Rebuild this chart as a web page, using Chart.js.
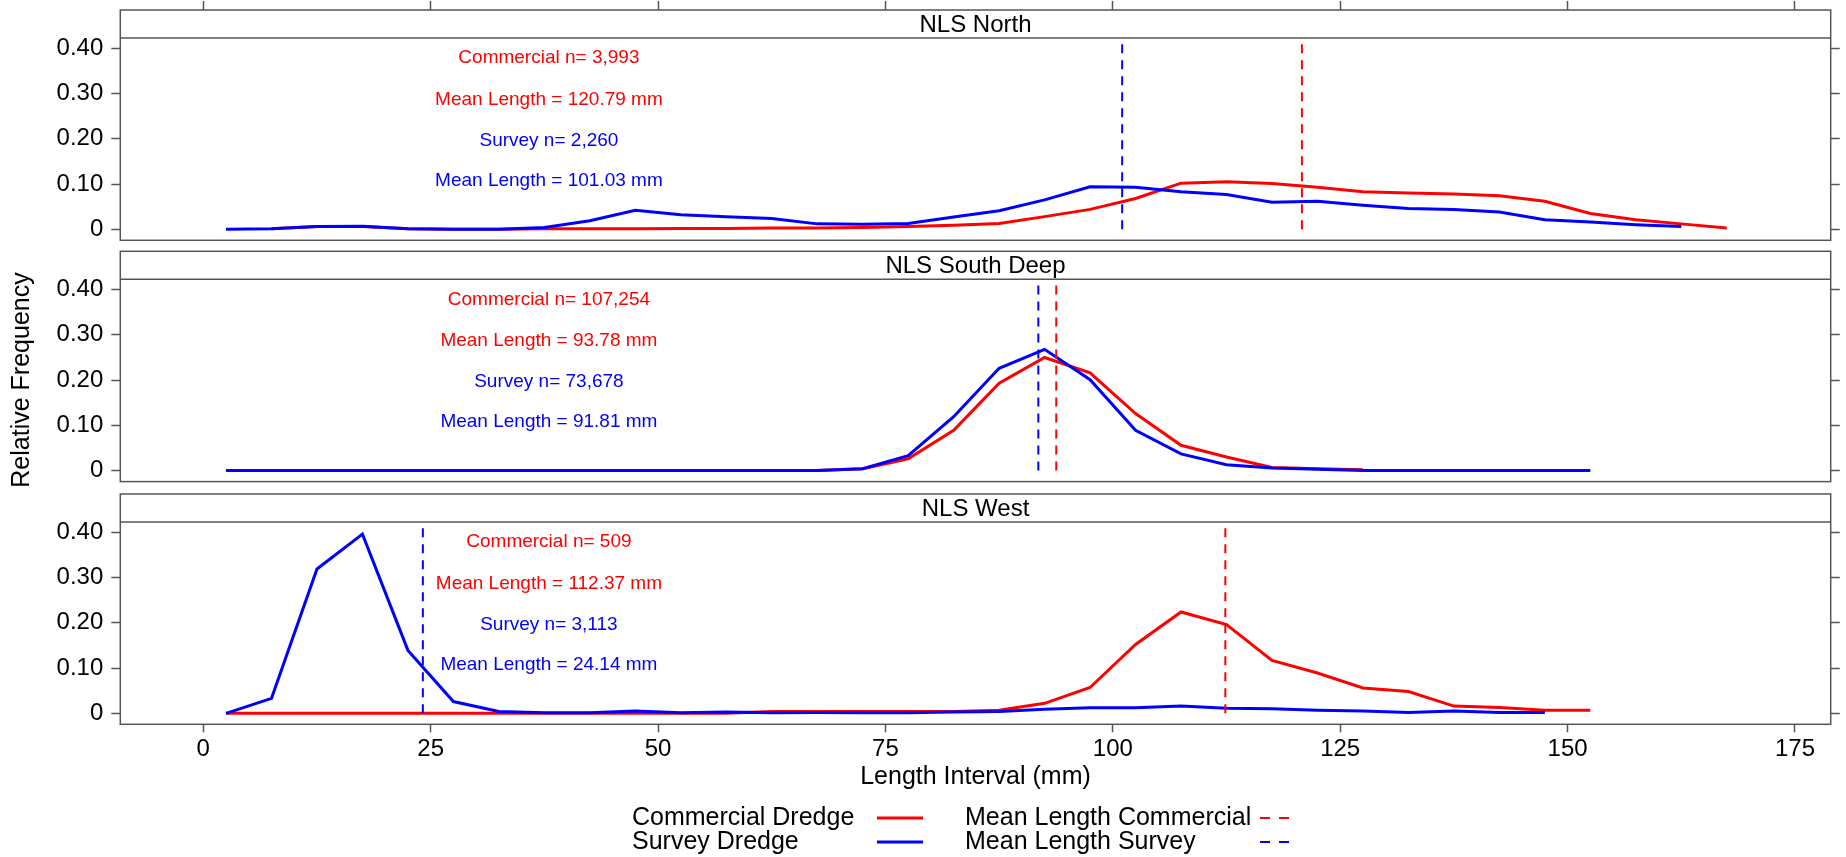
<!DOCTYPE html>
<html>
<head>
<meta charset="utf-8">
<title>Length frequency by region</title>
<script src="https://cdn.jsdelivr.net/npm/chart.js@4/dist/chart.umd.min.js"></script>
<style>
  html, body { margin: 0; padding: 0; background: #ffffff; }
  #wrap { position: relative; width: 1846px; height: 857px; background: #ffffff; }
  #wrap canvas { position: absolute; left: 0; top: 0; }
</style>
</head>
<body>
<div id="wrap">
  <canvas id="p0" width="1846" height="857"></canvas>
  <canvas id="p1" width="1846" height="857"></canvas>
  <canvas id="p2" width="1846" height="857"></canvas>
</div>
<script>
// 5 mm length-interval midpoints (mm)
const lengthMid = [2.5, 7.5, 12.5, 17.5, 22.5, 27.5, 32.5, 37.5, 42.5, 47.5,
  52.5, 57.5, 62.5, 67.5, 72.5, 77.5, 82.5, 87.5, 92.5, 97.5,
  102.5, 107.5, 112.5, 117.5, 122.5, 127.5, 132.5, 137.5, 142.5, 147.5,
  152.5, 157.5, 162.5, 167.5];

const regions = ['NLS North', 'NLS South Deep', 'NLS West'];

// relative frequency per interval (null = no fish in that interval)
const northCommercial = [null, 0.001, 0.006, 0.006, 0.001, 0, 0, 0.001, 0.001, 0.001,
  0.002, 0.002, 0.003, 0.003, 0.004, 0.006, 0.009, 0.013, 0.028, 0.044,
  0.068, 0.102, 0.105, 0.101, 0.093, 0.083, 0.080, 0.078, 0.074, 0.062,
  0.035, 0.021, 0.012, 0.003];
const northSurvey = [0, 0.001, 0.006, 0.007, 0.001, 0, 0, 0.004, 0.019, 0.042,
  0.032, 0.028, 0.024, 0.012, 0.011, 0.013, 0.027, 0.041, 0.065, 0.094,
  0.093, 0.083, 0.077, 0.060, 0.062, 0.053, 0.046, 0.044, 0.038, 0.021,
  0.016, 0.010, 0.006, null];

const southDeepCommercial = [null, null, null, null, null, null, null, null, null, null,
  null, null, null, 0, 0.004, 0.026, 0.089, 0.193, 0.250, 0.216,
  0.126, 0.056, 0.030, 0.007, 0.004, 0.002, null, null, null, null,
  null, null, null, null];
const southDeepSurvey = [0, 0, 0, 0, 0, 0, 0, 0, 0, 0,
  0, 0, 0, 0, 0.004, 0.033, 0.119, 0.226, 0.268, 0.201,
  0.089, 0.037, 0.013, 0.006, 0.003, 0, 0, 0, 0, 0,
  0, null, null, null];

const westCommercial = [0, 0, 0, 0, 0, 0, 0, 0, 0, 0,
  0, 0, 0.004, 0.004, 0.004, 0.004, 0.004, 0.007, 0.022, 0.057,
  0.152, 0.224, 0.196, 0.117, 0.089, 0.056, 0.048, 0.016, 0.013, 0.007,
  0.007, null, null, null];
const westSurvey = [0, 0.033, 0.319, 0.396, 0.139, 0.026, 0.004, 0.001, 0.001, 0.005,
  0.001, 0.003, 0.001, 0.002, 0.001, 0.001, 0.003, 0.004, 0.009, 0.012,
  0.012, 0.016, 0.011, 0.010, 0.007, 0.005, 0.002, 0.005, 0.002, 0.002,
  null, null, null, null];

// sample sizes and mean lengths (mm)
const commercialN = ['3,993', '107,254', '509'];
const surveyN = ['2,260', '73,678', '3,113'];
const meanCommercial = [120.79, 93.78, 112.37];
const meanSurvey = [101.03, 91.81, 24.14];

// axis ticks
const xTicks = [0, 25, 50, 75, 100, 125, 150, 175];
const xTickLabels = ['0', '25', '50', '75', '100', '125', '150', '175'];
const yTicks = [0, 0.1, 0.2, 0.3, 0.4];
const yTickLabels = ['0', '0.10', '0.20', '0.30', '0.40'];

const commercialSeries = [northCommercial, southDeepCommercial, westCommercial];
const surveySeries = [northSurvey, southDeepSurvey, westSurvey];

// ---- styling / layout ----
const FONT = '"Liberation Sans", Arial, Helvetica, sans-serif';
const RED = '#ff0000';
const BLUE = '#0000ff';
const FRAME = '#555555';
const PAGE_H = 857;
const PANEL_TOP = [10, 251.3, 494];
const PANEL_H = 230.3;
const STRIP_H = 28;
const LEFT_W = 120.3;       // left axis box width
const RIGHT_W = 15.3;       // right axis box width
const X_MIN = -9.125, X_MAX = 178.93;
const Y_MIN = -0.0243, Y_MAX = 0.4846;
const BOTTOM_AXIS_H = 67.7;
const BOTTOM_PAD = 65;
const TEXT_X = 38;                       // annotation centre (mm)
const TEXT_Y = [0.378, 0.287, 0.196, 0.107];
const DASH = [9, 7];

function toPoints(values) {
  const pts = [];
  values.forEach((v, i) => { if (v !== null) pts.push({ x: lengthMid[i], y: v }); });
  return pts;
}

function meanLine(m) {
  return [{ x: m, y: 0 }, { x: m, y: 0.41 }];
}

function setTicks(values) {
  return scale => { scale.ticks = values.map(v => ({ value: v })); };
}

function panelDecor(i) {
  return {
    id: 'panelDecor' + i,
    afterDatasetsDraw(chart) {
      const { ctx, chartArea: a, scales } = chart;
      ctx.save();
      // strip with region name
      ctx.fillStyle = '#ffffff';
      ctx.fillRect(a.left, a.top, a.right - a.left, STRIP_H);
      ctx.strokeStyle = FRAME;
      ctx.lineWidth = 1.5;
      ctx.beginPath();
      ctx.moveTo(a.left, a.top + STRIP_H);
      ctx.lineTo(a.right, a.top + STRIP_H);
      ctx.stroke();
      ctx.strokeRect(a.left, a.top, a.right - a.left, a.bottom - a.top);
      ctx.fillStyle = '#000000';
      ctx.font = '24px ' + FONT;
      ctx.textAlign = 'center';
      ctx.textBaseline = 'middle';
      ctx.fillText(regions[i], (a.left + a.right) / 2, a.top + STRIP_H / 2 + 1);

      // sample sizes and means
      const lines = [
        ['Commercial n= ' + commercialN[i], RED],
        ['Mean Length = ' + meanCommercial[i].toFixed(2) + ' mm', RED],
        ['Survey n= ' + surveyN[i], BLUE],
        ['Mean Length = ' + meanSurvey[i].toFixed(2) + ' mm', BLUE]
      ];
      ctx.font = '19px ' + FONT;
      const tx = scales.x.getPixelForValue(TEXT_X);
      lines.forEach((ln, k) => {
        ctx.fillStyle = ln[1];
        ctx.fillText(ln[0], tx, scales.y.getPixelForValue(TEXT_Y[k]));
      });
      ctx.restore();
    }
  };
}

const pageDecor = {
  id: 'pageDecor',
  afterDraw(chart) {
    const ctx = chart.ctx;
    ctx.save();
    // y-axis title
    ctx.fillStyle = '#000000';
    ctx.font = '25px ' + FONT;
    ctx.textAlign = 'center';
    ctx.textBaseline = 'middle';
    ctx.translate(22, 380);
    ctx.rotate(-Math.PI / 2);
    ctx.fillText('Relative Frequency', 0, 0);
    ctx.restore();

    // key
    ctx.save();
    ctx.font = '25px ' + FONT;
    ctx.fillStyle = '#000000';
    ctx.textAlign = 'left';
    ctx.textBaseline = 'middle';
    const rows = [
      ['Commercial Dredge', 'Mean Length Commercial', RED, 818],
      ['Survey Dredge', 'Mean Length Survey', BLUE, 842]
    ];
    rows.forEach(r => {
      ctx.fillStyle = '#000000';
      ctx.fillText(r[0], 632, r[3]);
      ctx.fillText(r[1], 965, r[3]);
      ctx.strokeStyle = r[2];
      ctx.lineWidth = 3;
      ctx.setLineDash([]);
      ctx.beginPath();
      ctx.moveTo(877, r[3]);
      ctx.lineTo(923, r[3]);
      ctx.stroke();
      ctx.lineWidth = 2;
      ctx.setLineDash([10, 9]);
      ctx.beginPath();
      ctx.moveTo(1260, r[3]);
      ctx.lineTo(1290, r[3]);
      ctx.stroke();
    });
    ctx.restore();
  }
};

function tickGrid(len) {
  return { display: true, drawOnChartArea: false, drawTicks: true, tickLength: len,
           tickColor: FRAME, tickWidth: 1.5 };
}

function buildPanel(i) {
  const isTop = i === 0, isBottom = i === 2;
  const padTop = isTop ? 0 : PANEL_TOP[i];
  const padBottom = isBottom ? BOTTOM_PAD : PAGE_H - (PANEL_TOP[i] + PANEL_H);

  const datasets = [
    { label: 'Mean Length Survey', data: meanLine(meanSurvey[i]), borderColor: BLUE,
      borderWidth: 2, borderDash: DASH, pointRadius: 0, fill: false },
    { label: 'Mean Length Commercial', data: meanLine(meanCommercial[i]), borderColor: RED,
      borderWidth: 2, borderDash: DASH, pointRadius: 0, fill: false },
    { label: 'Survey Dredge', data: toPoints(surveySeries[i]), borderColor: BLUE,
      borderWidth: 3, pointRadius: 0, tension: 0, fill: false },
    { label: 'Commercial Dredge', data: toPoints(commercialSeries[i]), borderColor: RED,
      borderWidth: 3, pointRadius: 0, tension: 0, fill: false }
  ];

  const plugins = [panelDecor(i)];
  if (isBottom) plugins.push(pageDecor);

  return new Chart(document.getElementById('p' + i), {
    type: 'line',
    data: { datasets },
    plugins,
    options: {
      responsive: false,
      animation: false,
      devicePixelRatio: 1,
      events: [],
      layout: { padding: { top: padTop, bottom: padBottom, left: 0, right: 0 } },
      plugins: { legend: { display: false }, tooltip: { enabled: false }, title: { display: false } },
      scales: {
        x: {
          type: 'linear', position: 'bottom', min: X_MIN, max: X_MAX, display: isBottom,
          afterBuildTicks: setTicks(xTicks),
          ticks: { font: { size: 24, family: FONT }, color: '#000000', padding: 3,
                   maxRotation: 0, autoSkip: false,
                   callback: (v, idx) => xTickLabels[idx] },
          grid: tickGrid(8),
          border: { display: false },
          title: { display: true, text: 'Length Interval (mm)', color: '#000000',
                   font: { size: 25, family: FONT }, padding: 0 },
          afterFit: s => { s.height = isBottom ? BOTTOM_AXIS_H : 0; s.paddingLeft = 0; s.paddingRight = 0; }
        },
        xTop: {
          type: 'linear', position: 'top', min: X_MIN, max: X_MAX, display: isTop,
          afterBuildTicks: setTicks(xTicks),
          ticks: { display: false },
          grid: tickGrid(9),
          border: { display: false },
          afterFit: s => { s.height = isTop ? 10 : 0; s.paddingLeft = 0; s.paddingRight = 0; }
        },
        y: {
          type: 'linear', position: 'left', min: Y_MIN, max: Y_MAX,
          afterBuildTicks: setTicks(yTicks),
          ticks: { font: { size: 24, family: FONT }, color: '#000000', padding: 8,
                   autoSkip: false, callback: (v, idx) => yTickLabels[idx] },
          grid: tickGrid(9),
          border: { display: false },
          afterFit: s => { s.width = LEFT_W; s.paddingTop = 0; s.paddingBottom = 0; }
        },
        yR: {
          type: 'linear', position: 'right', min: Y_MIN, max: Y_MAX,
          afterBuildTicks: setTicks(yTicks),
          ticks: { display: false },
          grid: tickGrid(9),
          border: { display: false },
          afterFit: s => { s.width = RIGHT_W; s.paddingTop = 0; s.paddingBottom = 0; }
        }
      }
    }
  });
}

[0, 1, 2].forEach(buildPanel);
</script>
</body>
</html>
